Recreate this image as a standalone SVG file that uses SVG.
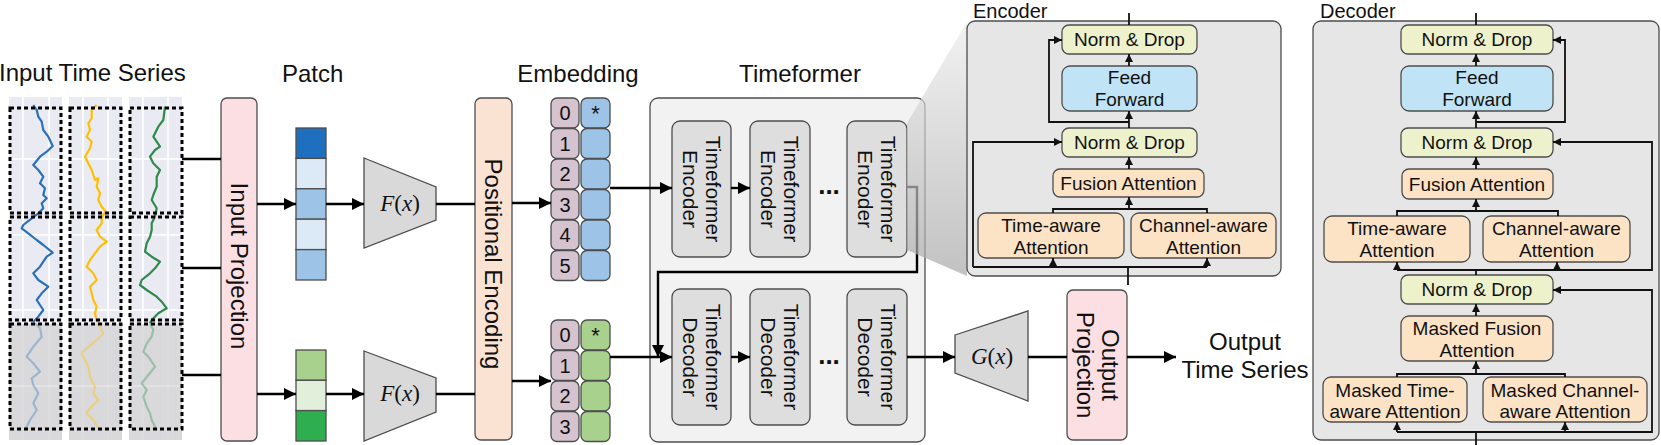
<svg xmlns="http://www.w3.org/2000/svg" width="1661" height="445" viewBox="0 0 1661 445">
<defs>
<style>
.t{font-family:"Liberation Sans",Arial,sans-serif;fill:#111}
.big{font-size:24px}
.mid{text-anchor:middle}
.m{font-size:19px;text-anchor:middle}
.bx{stroke:#4d4d4d;stroke-width:1.3}
.ln{fill:none;stroke:#000;stroke-width:2.4}
.sl{fill:none;stroke:#111;stroke-width:1.8}
.ds{fill:none;stroke:#000;stroke-width:3;stroke-dasharray:4 3}
.grid{stroke:#fff;stroke-width:1.6}
.math{font-family:"Liberation Serif","Times New Roman",serif;font-size:23px;text-anchor:middle;fill:#111}
.nd{fill:#eef2cc}
.ff{fill:#c0e4f5}
.at{fill:#fde3c6}
.pu{fill:#d5c3cf}
.bl{fill:#9dc3e6}
.gr{fill:#a9d18e}
.tf{fill:#dedede}
</style>
<marker id="ah" markerWidth="12" markerHeight="12" refX="12" refY="6" orient="auto" markerUnits="userSpaceOnUse"><path d="M0,0 L12,6 L0,12 z" fill="#000"/></marker>
<marker id="sa" markerWidth="8" markerHeight="8" refX="8" refY="4" orient="auto" markerUnits="userSpaceOnUse"><path d="M0,0 L8,4 L0,8 z" fill="#111"/></marker>
<linearGradient id="zg" x1="0" y1="0" x2="0" y2="1">
<stop offset="0" stop-color="#ececec"/>
<stop offset="1" stop-color="#a8a8a8"/>
</linearGradient>
</defs>
<rect width="1661" height="445" fill="#fff"/>

<!-- Input time series -->
<g id="input-series">
<text class="t big" x="-1" y="81">Input Time Series</text>
<rect x="9" y="97" width="53" height="343" fill="#eaeaf2"/>
<rect x="69" y="97" width="53" height="343" fill="#eaeaf2"/>
<rect x="129" y="97" width="53" height="343" fill="#eaeaf2"/>
<g class="grid">
<line x1="9" y1="159" x2="62" y2="159"/><line x1="9" y1="235" x2="62" y2="235"/><line x1="9" y1="310" x2="62" y2="310"/>
<line x1="69" y1="159" x2="122" y2="159"/><line x1="69" y1="235" x2="122" y2="235"/><line x1="69" y1="310" x2="122" y2="310"/>
<line x1="129" y1="159" x2="182" y2="159"/><line x1="129" y1="235" x2="182" y2="235"/><line x1="129" y1="310" x2="182" y2="310"/>
<line x1="23" y1="97" x2="23" y2="440"/><line x1="49" y1="97" x2="49" y2="440"/>
<line x1="83" y1="97" x2="83" y2="440"/><line x1="108" y1="97" x2="108" y2="440"/>
<line x1="143" y1="97" x2="143" y2="440"/><line x1="168" y1="97" x2="168" y2="440"/>
</g>
<rect x="9" y="324" width="53" height="116" fill="#d4d4d4" opacity="0.8"/>
<rect x="69" y="324" width="53" height="116" fill="#d4d4d4" opacity="0.8"/>
<rect x="129" y="324" width="53" height="116" fill="#d4d4d4" opacity="0.8"/>
<g stroke="#fff" stroke-width="1.2" opacity="0.5">
<line x1="9" y1="386" x2="182" y2="386"/>
</g>
<g fill="none" stroke-width="2.2" stroke-linejoin="round">
<polyline stroke="#2a72b8" points="33.3,105 36.7,110 38.3,116.7 41.7,121.7 43.3,130 48.3,136.7 52.7,146 46.7,151.7 40,156.7 33.3,165 38.3,170 43.3,176.7 40,183.3 45,188.3 43.3,195 46.7,198.3 41.7,203.3 43.3,208.3 38.3,213.3 31.7,218.3 23.3,225 21.7,228.3 28.3,233.3 36.7,240 43.3,245 52.7,252.7 46.7,256.7 43.3,261.7 40,266.7 33.3,273.3 38.3,280 48.3,286.7 41.7,293.3 36.7,300 40,305 43.3,310 38.3,316.7 33.3,321.7"/>
<polyline stroke="#2a72b8" opacity="0.35" points="33.3,321.7 40,328.3 41.7,336.7 33.3,346.7 26.7,356.7 33.3,363.3 40,371.7 31.7,378.3 33.3,385 38.3,393.3 33.3,403.3 36.7,410 30,420 25,430"/>
<polyline stroke="#ffc000" points="96.7,105 91.7,110 91.7,118.3 88.3,123.3 90,130 86.7,136.7 91.7,141.7 90,148.3 85,156.7 88.3,163.3 91.7,170 93.3,175 95,180 98.3,178.3 96.7,186.7 100,193.3 98.3,200 101.7,206.7 106,211.7 101.7,216.7 101.7,223.3 96.7,230 100,236.7 106.7,241.7 100,246.7 95,253.3 90,260 86.7,266.7 93.3,273.3 96.7,280 90,286.7 91.7,293.3 93.3,300 96.7,306.7 95,313.3 96.7,321.7"/>
<polyline stroke="#ffc000" opacity="0.4" points="96.7,321.7 100,326.7 103.3,333.3 96.7,340 86.7,348.3 81.7,353.3 85,360 88.3,366.7 90,376.7 95,386.7 93.3,393.3 98.3,400 88.3,410 86.7,413.3 93.3,420 100,430"/>
<polyline stroke="#2f8a4c" points="165,106.7 163.3,120 158.3,126.7 153.3,136.7 156.7,141.7 160,146.7 155,150 150,156.7 153.3,163.3 160,170 156.7,176.7 156.7,186.7 153.3,195 151.7,200 156.7,208.3 155,216.7 151.7,223.3 151.7,230 150,236.7 146.7,243.3 145,251.7 151.7,256.7 160,261.7 155,268.3 150,273.3 141.7,280 140,285 146.7,290 156.7,296.7 161.7,301.7 166.7,308.3 158.3,313.3 151.7,320 150,323.3"/>
<polyline stroke="#2f8a4c" opacity="0.35" points="150,323.3 153.3,330 151.7,336.7 146.7,343.3 143.3,351.7 148.3,356.7 155,366.7 148.3,375 141.7,383.3 146.7,390 143.3,396.7 146.7,406.7 150,413.3 151.7,420 156.7,430"/>
</g>
<g class="ds">
<rect x="10" y="108" width="51" height="105"/><rect x="10" y="217" width="51" height="103"/><rect x="10" y="324" width="51" height="105"/>
<rect x="70" y="108" width="51" height="105"/><rect x="70" y="217" width="51" height="103"/><rect x="70" y="324" width="51" height="105"/>
<rect x="130" y="108" width="52" height="105"/><rect x="130" y="217" width="52" height="103"/><rect x="130" y="324" width="52" height="105"/>
</g>
</g>

<!-- Top labels -->
<text class="t big" x="282" y="82">Patch</text>
<text class="t big mid" x="578" y="82">Embedding</text>
<text class="t big mid" x="800" y="82">Timeformer</text>

<g id="input-projection">
<rect class="bx" x="221" y="98" width="36" height="343" rx="6" fill="#fcdfe3"/>
<text class="t big mid" transform="translate(239,266) rotate(90)" y="8.4">Input Projection</text>
</g>

<g id="patch-top" class="bx">
<rect x="296" y="128" width="30" height="30.4" fill="#1f6fc1"/>
<rect x="296" y="158.4" width="30" height="30.4" fill="#dce9f6"/>
<rect x="296" y="188.8" width="30" height="30.4" fill="#9dc3e6"/>
<rect x="296" y="219.2" width="30" height="30.4" fill="#dce9f6"/>
<rect x="296" y="249.6" width="30" height="30.4" fill="#9dc3e6"/>
</g>
<g id="patch-bottom" class="bx">
<rect x="296" y="350" width="30" height="30.3" fill="#a9d18e"/>
<rect x="296" y="380.3" width="30" height="30.3" fill="#e2efda"/>
<rect x="296" y="410.6" width="30" height="30.4" fill="#2fae4f"/>
</g>

<g id="fx-top">
<polygon class="bx" points="364,158 436,187 436,220 364,248" fill="#d9d9d9"/>
<text class="math" x="400" y="211"><tspan font-style="italic">F</tspan>(<tspan font-style="italic">x</tspan>)</text>
</g>
<g id="fx-bottom">
<polygon class="bx" points="364,351 436,378 436,412 364,441" fill="#d9d9d9"/>
<text class="math" x="400" y="401"><tspan font-style="italic">F</tspan>(<tspan font-style="italic">x</tspan>)</text>
</g>

<g id="positional-encoding">
<rect class="bx" x="475" y="98" width="37" height="342" rx="6" fill="#fbe3d4"/>
<text class="t big mid" transform="translate(493.5,264) rotate(90)" y="8.4">Positional Encoding</text>
</g>

<g id="embedding-top">
<g class="bx">
<rect class="pu" x="551" y="98" width="28" height="30" rx="6"/>
<rect class="pu" x="551" y="128.5" width="28" height="30" rx="6"/>
<rect class="pu" x="551" y="159" width="28" height="30" rx="6"/>
<rect class="pu" x="551" y="189.5" width="28" height="30" rx="6"/>
<rect class="pu" x="551" y="220" width="28" height="30" rx="6"/>
<rect class="pu" x="551" y="250.5" width="28" height="30" rx="6"/>
<rect class="bl" x="581" y="98" width="29" height="30" rx="6"/>
<rect class="bl" x="581" y="128.5" width="29" height="30" rx="6"/>
<rect class="bl" x="581" y="159" width="29" height="30" rx="6"/>
<rect class="bl" x="581" y="189.5" width="29" height="30" rx="6"/>
<rect class="bl" x="581" y="220" width="29" height="30" rx="6"/>
<rect class="bl" x="581" y="250.5" width="29" height="30" rx="6"/>
</g>
<g class="t mid" font-size="20">
<text x="565" y="120">0</text><text x="565" y="150.5">1</text><text x="565" y="181">2</text>
<text x="565" y="211.5">3</text><text x="565" y="242">4</text><text x="565" y="272.5">5</text>
<text x="595.5" y="121" font-size="22">*</text>
</g>
</g>

<g id="embedding-bottom">
<g class="bx">
<rect class="pu" x="551" y="320" width="28" height="30" rx="6"/>
<rect class="pu" x="551" y="350.5" width="28" height="30" rx="6"/>
<rect class="pu" x="551" y="381" width="28" height="30" rx="6"/>
<rect class="pu" x="551" y="411.5" width="28" height="30" rx="6"/>
<rect class="gr" x="581" y="320" width="29" height="30" rx="6"/>
<rect class="gr" x="581" y="350.5" width="29" height="30" rx="6"/>
<rect class="gr" x="581" y="381" width="29" height="30" rx="6"/>
<rect class="gr" x="581" y="411.5" width="29" height="30" rx="6"/>
</g>
<g class="t mid" font-size="20">
<text x="565" y="342">0</text><text x="565" y="372.5">1</text><text x="565" y="403">2</text><text x="565" y="433.5">3</text>
<text x="595.5" y="343" font-size="22">*</text>
</g>
</g>

<g id="timeformer">
<rect class="bx" x="650" y="98" width="275" height="344" rx="8" fill="#f2f2f2"/>
</g>
<g id="tf-enc-1"><rect class="bx tf" x="672" y="121" width="59" height="136" rx="8"/>
<text class="t mid" font-size="21" transform="translate(701.5,189) rotate(90)"><tspan x="0" y="-4">Timeformer</tspan><tspan x="0" y="19">Encoder</tspan></text></g>
<g id="tf-enc-2"><rect class="bx tf" x="750" y="121" width="60" height="136" rx="8"/>
<text class="t mid" font-size="21" transform="translate(780,189) rotate(90)"><tspan x="0" y="-4">Timeformer</tspan><tspan x="0" y="19">Encoder</tspan></text></g>
<g id="tf-enc-3"><rect class="bx tf" x="847" y="121" width="60" height="136" rx="8"/>
<text class="t mid" font-size="21" transform="translate(877,189) rotate(90)"><tspan x="0" y="-4">Timeformer</tspan><tspan x="0" y="19">Encoder</tspan></text></g>
<g id="tf-dec-1"><rect class="bx tf" x="672" y="289" width="59" height="136" rx="8"/>
<text class="t mid" font-size="21" transform="translate(701.5,357) rotate(90)"><tspan x="0" y="-4">Timeformer</tspan><tspan x="0" y="19">Decoder</tspan></text></g>
<g id="tf-dec-2"><rect class="bx tf" x="750" y="289" width="60" height="136" rx="8"/>
<text class="t mid" font-size="21" transform="translate(780,357) rotate(90)"><tspan x="0" y="-4">Timeformer</tspan><tspan x="0" y="19">Decoder</tspan></text></g>
<g id="tf-dec-3"><rect class="bx tf" x="847" y="289" width="60" height="136" rx="8"/>
<text class="t mid" font-size="21" transform="translate(877,357) rotate(90)"><tspan x="0" y="-4">Timeformer</tspan><tspan x="0" y="19">Decoder</tspan></text></g>
<g id="dots">
<text class="t mid" font-size="26" font-weight="bold" x="829" y="194">...</text>
<text class="t mid" font-size="26" font-weight="bold" x="829" y="364">...</text>
</g>

<g id="gx">
<polygon class="bx" points="955,335 1028,311 1028,401 955,373" fill="#d9d9d9"/>
<text class="math" x="992" y="364"><tspan font-style="italic">G</tspan>(<tspan font-style="italic">x</tspan>)</text>
</g>

<g id="output-projection">
<rect class="bx" x="1067" y="290" width="60" height="150" rx="6" fill="#fcdfe3"/>
<text class="t mid" font-size="24" transform="translate(1097,365) rotate(90)"><tspan x="0" y="-5">Output</tspan><tspan x="0" y="20">Projection</tspan></text>
</g>

<g id="output-series">
<text class="t big mid" x="1245" y="350">Output</text>
<text class="t big mid" x="1245" y="378">Time Series</text>
</g>

<!-- connectors -->
<g id="connectors">
<g class="ln">
<path d="M182,159 H221"/><path d="M182,268 H221"/><path d="M182,375 H221"/>
<path d="M257,204 H296" marker-end="url(#ah)"/>
<path d="M257,394 H296" marker-end="url(#ah)"/>
<path d="M326,204 H364" marker-end="url(#ah)"/>
<path d="M326,394 H364" marker-end="url(#ah)"/>
<path d="M436,204 H475"/><path d="M436,394 H475"/>
<path d="M512,203 H551" marker-end="url(#ah)"/>
<path d="M512,381 H551" marker-end="url(#ah)"/>
<path d="M610,188 H672" marker-end="url(#ah)"/>
<path d="M731,188 H750" marker-end="url(#ah)"/>
<path d="M610,357 H672" marker-end="url(#ah)"/>
<path d="M731,357 H750" marker-end="url(#ah)"/>
<path d="M907,187 H917 V272 H658 V357" marker-end="url(#ah)"/>
<path d="M907,357 H955" marker-end="url(#ah)"/>
<path d="M1028,357 H1067"/>
<path d="M1127,357 H1176" marker-end="url(#ah)"/>
</g>
</g>

<!-- zoom overlay -->
<polygon points="907,123 967,22 967,276 907,250" fill="url(#zg)" opacity="0.7"/>

<g id="encoder-detail">
<text class="t" font-size="20" x="973" y="18">Encoder</text>
<rect class="bx" x="967" y="21" width="314" height="255" rx="8" fill="#e6e6e6"/>
<g class="bx">
<rect class="nd" x="1062" y="25" width="135" height="29" rx="7"/>
<rect class="ff" x="1062" y="66" width="135" height="45" rx="8"/>
<rect class="nd" x="1062" y="128" width="135" height="29" rx="7"/>
<rect class="at" x="1053" y="169" width="151" height="28" rx="7"/>
<rect class="at" x="978" y="213" width="146" height="45" rx="8"/>
<rect class="at" x="1131" y="213" width="145" height="45" rx="8"/>
</g>
<g class="t m">
<text x="1129.5" y="46">Norm &amp; Drop</text>
<text x="1129.5" y="84">Feed</text><text x="1129.5" y="106">Forward</text>
<text x="1129.5" y="149">Norm &amp; Drop</text>
<text x="1128.5" y="190">Fusion Attention</text>
<text x="1051" y="232">Time-aware</text><text x="1051" y="254">Attention</text>
<text x="1203.5" y="232">Channel-aware</text><text x="1203.5" y="254">Attention</text>
</g>
<g class="sl">
<path d="M1129,25 V13"/>
<path d="M1129,66 V54" marker-end="url(#sa)"/>
<path d="M1129,128 V111" marker-end="url(#sa)"/>
<path d="M1129,122 H1049 V40 H1062" marker-end="url(#sa)"/>
<path d="M1129,169 V157" marker-end="url(#sa)"/>
<path d="M1053,213 V209 H1207 V213"/>
<path d="M1129,209 V197" marker-end="url(#sa)"/>
<path d="M1128,285 V267"/>
<path d="M973,267 H1207"/>
<path d="M1053,267 V258" marker-end="url(#sa)"/>
<path d="M1207,267 V258" marker-end="url(#sa)"/>
<path d="M973,267 V142 H1062" marker-end="url(#sa)"/>
</g>
</g>

<g id="decoder-detail">
<text class="t" font-size="20" x="1320" y="18">Decoder</text>
<rect class="bx" x="1313" y="21" width="346" height="419" rx="8" fill="#e6e6e6"/>
<g class="bx">
<rect class="nd" x="1401" y="25" width="152" height="29" rx="7"/>
<rect class="ff" x="1401" y="66" width="152" height="45" rx="8"/>
<rect class="nd" x="1401" y="128" width="152" height="29" rx="7"/>
<rect class="at" x="1402" y="169" width="151" height="30" rx="7"/>
<rect class="at" x="1324" y="216" width="146" height="46" rx="8"/>
<rect class="at" x="1483" y="216" width="147" height="46" rx="8"/>
<rect class="nd" x="1401" y="275" width="152" height="29" rx="7"/>
<rect class="at" x="1401" y="316" width="152" height="45" rx="8"/>
<rect class="at" x="1323" y="377" width="144" height="45" rx="8"/>
<rect class="at" x="1483" y="377" width="164" height="45" rx="8"/>
</g>
<g class="t m">
<text x="1477" y="46">Norm &amp; Drop</text>
<text x="1477" y="84">Feed</text><text x="1477" y="106">Forward</text>
<text x="1477" y="149">Norm &amp; Drop</text>
<text x="1477" y="191">Fusion Attention</text>
<text x="1397" y="235">Time-aware</text><text x="1397" y="257">Attention</text>
<text x="1556.5" y="235">Channel-aware</text><text x="1556.5" y="257">Attention</text>
<text x="1477" y="296">Norm &amp; Drop</text>
<text x="1477" y="335">Masked Fusion</text><text x="1477" y="357">Attention</text>
<text x="1395" y="397">Masked Time-</text><text x="1395" y="418">aware Attention</text>
<text x="1565" y="397">Masked Channel-</text><text x="1565" y="418">aware Attention</text>
</g>
<g class="sl">
<path d="M1476,25 V13"/>
<path d="M1476,66 V54" marker-end="url(#sa)"/>
<path d="M1476,128 V111" marker-end="url(#sa)"/>
<path d="M1476,122 H1565 V40 H1553" marker-end="url(#sa)"/>
<path d="M1476,169 V157" marker-end="url(#sa)"/>
<path d="M1397,216 V211 H1558 V216"/>
<path d="M1476,211 V199" marker-end="url(#sa)"/>
<path d="M1476,275 V270"/>
<path d="M1397,270 H1652 V142 H1553" marker-end="url(#sa)"/>
<path d="M1397,270 V262" marker-end="url(#sa)"/>
<path d="M1557,270 V262" marker-end="url(#sa)"/>
<path d="M1476,316 V304" marker-end="url(#sa)"/>
<path d="M1397,377 V374 H1565 V377"/>
<path d="M1476,374 V361" marker-end="url(#sa)"/>
<path d="M1476,445 V432"/>
<path d="M1397,432 H1652 V290 H1553" marker-end="url(#sa)"/>
<path d="M1397,432 V422" marker-end="url(#sa)"/>
<path d="M1565,432 V422" marker-end="url(#sa)"/>
</g>
</g>
</svg>
